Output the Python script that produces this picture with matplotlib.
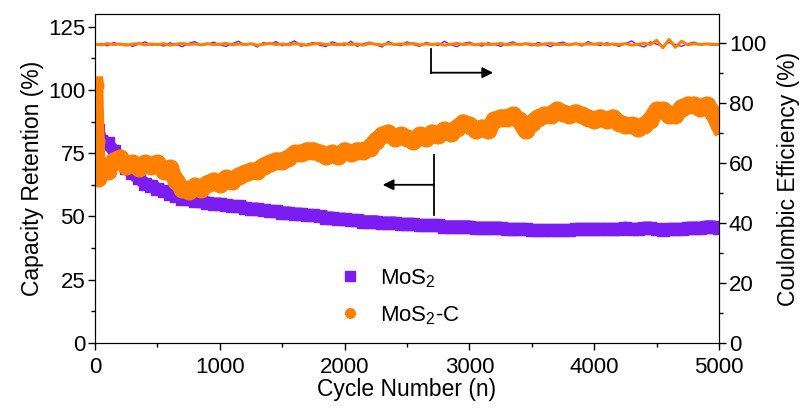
import numpy as np
import matplotlib
matplotlib.use('Agg')
import matplotlib.pyplot as plt
from matplotlib.lines import Line2D

plt.rcParams['font.family'] = ['Liberation Sans', 'DejaVu Sans']
plt.rcParams['mathtext.fontset'] = 'custom'
plt.rcParams['mathtext.rm'] = 'Liberation Sans'
plt.rcParams['mathtext.default'] = 'regular'

# 循环次数（容量保持率取点）
cycles = [0, 10, 25] + list(range(50, 5001, 50))

# MoS2 容量保持率 (%)
mos2_cap = [91, 87, 84,
            80, 79, 76, 72, 69, 67, 65, 63, 62, 61,
            60, 59, 58, 57, 57, 56, 56, 55.5, 55, 55,
            54.5, 54, 54, 53.5, 53, 53, 52.5, 52, 52, 51.5,
            51.5, 51, 51, 50.5, 50.5, 50, 49.5, 49.5, 49, 49,
            48.5, 48.5, 48, 48, 48, 47.5, 47.5, 47.5, 47, 47,
            47, 46.5, 46.5, 46.5, 46.5, 46, 46, 46, 46, 46,
            45.5, 45.5, 45.5, 45.5, 45.5, 45, 45, 45, 45, 44.5,
            44.5, 44.5, 44.5, 44.5, 44.5, 44.5, 45, 45, 45, 45,
            45, 45, 45, 45, 45.5, 45, 45, 45.5, 45.5, 45,
            44.5, 45, 45, 45, 45.5, 45.5, 45.5, 46, 46, 45.5]

# MoS2-C 容量保持率 (%)
mos2c_cap = [102, 80, 65,
             70, 68, 72, 73, 70, 71, 69, 71, 70, 71,
             68, 69, 64, 61, 60, 62, 61, 63, 64, 63,
             65, 64, 66, 67, 68, 68, 70, 71, 72, 72,
             73, 75, 75, 76, 76, 75, 74, 75, 74, 76,
             75, 76, 76, 77, 80, 82, 83, 81, 82, 81,
             80, 82, 81, 83, 82, 84, 83, 85, 87, 86,
             84, 85, 84, 88, 89, 89, 90, 88, 84, 87,
             89, 90, 90, 92, 91, 90, 91, 90, 89, 88,
             89, 88, 89, 87, 86, 86, 85, 86, 88, 92,
             92, 90, 90, 93, 94, 94, 93, 94, 91, 86]

# 库伦效率取点
ce_cycles = list(range(0, 5001, 50))

ce_mos2 = [99.5, 99.8, 99.1, 100.2, 99.4, 99.7, 98.9, 99.6, 100.4, 99.3,
           99.7, 99.0, 100.1, 99.5, 98.8, 99.9, 100.5, 99.2, 99.6, 100.3,
           99.4, 98.9, 99.8, 100.6, 99.3, 99.7, 98.7, 100.2, 99.5, 100.5,
           99.1, 99.8, 100.7, 98.9, 99.6, 100.2, 99.3, 98.8, 100.4, 99.7,
           99.2, 100.6, 98.9, 99.8, 100.3, 99.4, 98.7, 100.5, 99.6, 99.1,
           100.4, 99.5, 98.9, 100.2, 99.7, 99.2, 100.6, 99.4, 98.8, 99.9,
           100.3, 99.5, 99.0, 100.1, 99.6, 98.9, 99.8, 100.4, 99.3, 99.7,
           99.1, 100.2, 99.5, 98.8, 99.9, 100.3, 99.4, 99.8, 99.0, 100.5,
           99.6, 99.2, 100.1, 99.5, 98.9, 99.8, 100.7, 99.3, 98.7, 100.4,
           99.6, 99.1, 100.2, 99.5, 98.9, 99.8, 100.3, 99.4, 99.7, 99.2,
           99.6]

ce_mos2c = [99.6, 99.4, 99.8, 99.5, 99.7, 99.3, 99.6, 99.9, 99.4, 99.7,
            99.5, 99.8, 99.3, 99.6, 99.9, 99.5, 99.7, 99.4, 99.8, 99.5,
            99.6, 99.9, 99.4, 99.7, 99.5, 99.8, 99.3, 99.6, 99.9, 99.5,
            99.7, 99.4, 99.8, 99.6, 99.3, 99.7, 99.9, 99.5, 99.6, 99.4,
            99.8, 99.5, 99.7, 99.3, 99.9, 99.6, 99.4, 99.8, 99.5, 99.7,
            99.6, 99.9, 99.4, 99.7, 99.5, 99.8, 99.3, 99.6, 99.9, 99.5,
            99.7, 99.4, 99.8, 99.5, 99.6, 99.9, 99.4, 99.7, 99.5, 99.8,
            99.6, 99.3, 99.7, 99.9, 99.5, 99.6, 99.4, 99.8, 99.5, 99.7,
            99.6, 99.9, 99.4, 99.7, 99.5, 99.8, 99.3, 99.6, 99.9, 99.5,
            100.9, 98.4, 101.2, 98.6, 100.6, 99.4, 99.8, 99.5, 99.7, 99.6,
            99.5]

purple = '#7a1cf2'
orange = '#ff8000'


def cycle_chart():
    fig = plt.figure(figsize=(8.08, 4.11), dpi=100)
    ax = fig.add_axes([0.1176, 0.1655, 0.7723, 0.8005])
    ax2 = ax.twinx()

    # 容量保持率（左轴）
    ax.plot(cycles, mos2_cap, color=purple, lw=9, marker='s', ms=9,
            solid_joinstyle='round', zorder=2)
    ax.plot(cycles, mos2c_cap, color=orange, lw=12, marker='o', ms=12,
            solid_joinstyle='round', zorder=3)

    # 库伦效率（右轴）
    ax2.plot(ce_cycles, ce_mos2, color=purple, lw=1.0)
    ax2.plot(ce_cycles, ce_mos2c, color=orange, lw=2.2)

    ax.set_xlim(0, 5000)
    ax.set_ylim(0, 130)
    ax2.set_ylim(0, 109.7)
    ax.set_xticks(range(0, 5001, 1000))
    ax.set_xticks(range(0, 5001, 500), minor=True)
    ax.set_yticks([0, 25, 50, 75, 100, 125])
    ax.set_yticks(np.arange(0, 126, 12.5), minor=True)
    ax2.set_yticks(range(0, 101, 20))
    ax2.set_yticks(range(0, 101, 10), minor=True)

    for a in (ax, ax2):
        a.tick_params(which='major', direction='out', length=5, width=1,
                      labelsize=16, pad=2)
        a.tick_params(which='minor', direction='out', length=3, width=1)
    ax.tick_params(axis='x', which='major', pad=5)

    ax.set_xlabel('Cycle Number (n)', fontsize=16.5, labelpad=0)
    ax.set_ylabel('Capacity Retention (%)', fontsize=16.5, labelpad=3)
    ax2.set_ylabel('Coulombic Efficiency (%)', fontsize=16.5, labelpad=8)

    # 指示箭头
    ax.plot([2692, 2692], [116.3, 106.8], color='k', lw=1.3)
    ax.annotate('', xy=(3190, 106.8), xytext=(2692, 106.8),
                arrowprops=dict(arrowstyle='-|>', color='k', lw=1.3, mutation_scale=16,
                                shrinkA=0, shrinkB=0))
    ax.plot([2716, 2716], [74.4, 50.6], color='k', lw=1.3, zorder=4)
    ax.annotate('', xy=(2305, 62.5), xytext=(2716, 62.5),
                arrowprops=dict(arrowstyle='-|>', color='k', lw=1.3, mutation_scale=16,
                                shrinkA=0, shrinkB=0), zorder=4)

    handles = [Line2D([], [], ls='none', marker='s', ms=7, color=purple),
               Line2D([], [], ls='none', marker='o', ms=7, color=orange)]
    ax.legend(handles, ['MoS$_2$', 'MoS$_2$-C'], loc='center left',
              bbox_to_anchor=(0.35, 0.14), frameon=False, fontsize=16,
              handletextpad=0.6, labelspacing=0.65, handlelength=1.5)

    fig.savefig('out.png', dpi=100)


if __name__ == '__main__':
    cycle_chart()
